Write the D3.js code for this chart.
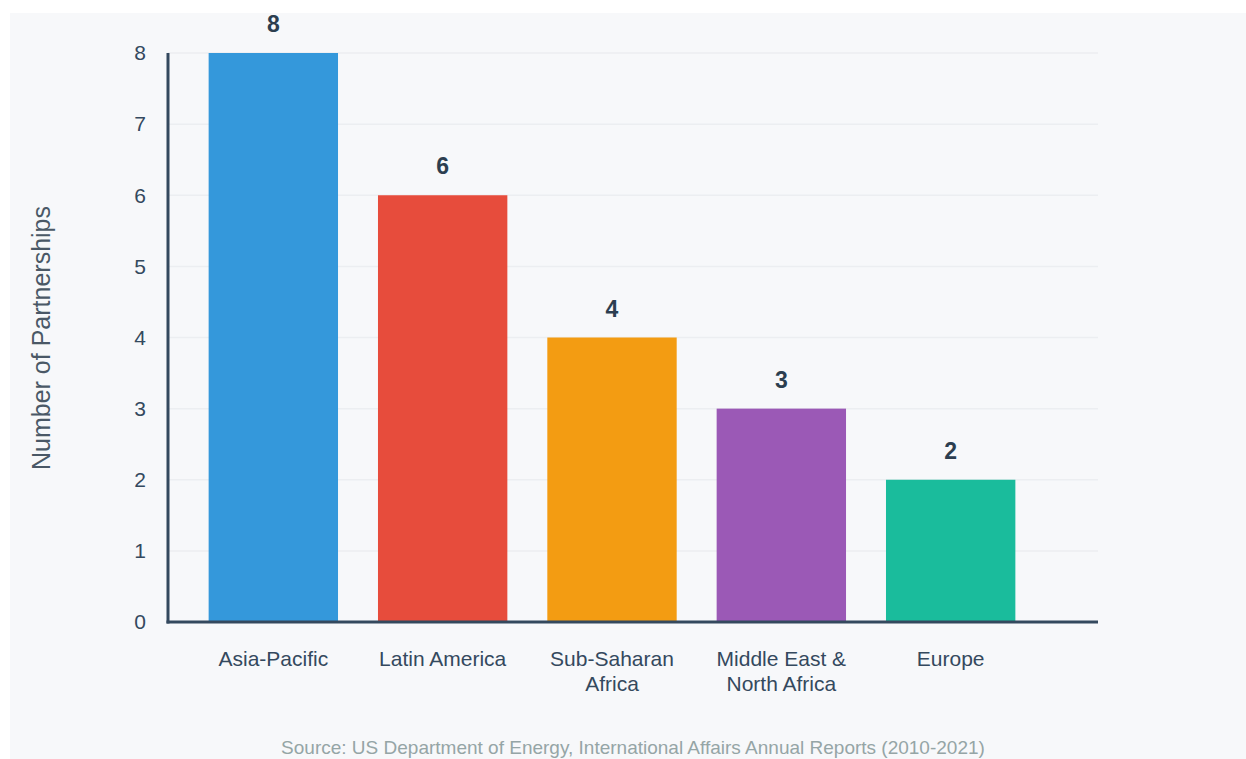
<!DOCTYPE html>
<html>
<head>
<meta charset="utf-8">
<script src="https://cdn.jsdelivr.net/npm/d3@7"></script>
<style>
  html, body { margin: 0; padding: 0; background: #ffffff; }
  svg { display: block; font-family: "Liberation Sans", Arial, sans-serif; }
</style>
</head>
<body>
<div id="chart"></div>
<script>
// ---- data ----
const regions = ["Asia-Pacific", "Latin America", "Sub-Saharan Africa", "Middle East & North Africa", "Europe"];
const regionLines = [["Asia-Pacific"], ["Latin America"], ["Sub-Saharan", "Africa"], ["Middle East &", "North Africa"], ["Europe"]];
const partnerships = [8, 6, 4, 3, 2];
const barColors = ["#3498db", "#e74c3c", "#f39c12", "#9b59b6", "#1abc9c"];
const yTicks = [0, 1, 2, 3, 4, 5, 6, 7, 8];
const yTitle = "Number of Partnerships";
const sourceNote = "Source: US Department of Energy, International Affairs Annual Reports (2010-2021)";

(() => {
  const width = 1246, height = 759;
  const axisLeft = 168, axisRight = 1098;
  const yTop = 53, yBottom = 622;

  const svg = d3.select("#chart").append("svg")
    .attr("width", width)
    .attr("height", height);

  // panel background
  svg.append("rect")
    .attr("x", 10).attr("y", 13)
    .attr("width", width - 10).attr("height", height - 13)
    .attr("fill", "#f7f8fa");

  // ------------------
  // Scales
  // ------------------
  const x = d3.scaleBand()
    .domain(regions)
    .range([axisLeft, 1056])
    .paddingInner(0.236)
    .paddingOuter(0.24);

  const y = d3.scaleLinear()
    .domain([0, 8])
    .range([yBottom, yTop]);

  // gridlines
  svg.append("g")
    .selectAll("line")
    .data(yTicks.filter(d => d > 0))
    .join("line")
    .attr("x1", axisLeft).attr("x2", axisRight)
    .attr("y1", d => y(d)).attr("y2", d => y(d))
    .attr("stroke", "#eceef1")
    .attr("stroke-width", 1.5);

  // bars
  svg.append("g")
    .selectAll("rect")
    .data(partnerships)
    .join("rect")
    .attr("x", (d, i) => x(regions[i]))
    .attr("y", d => y(d))
    .attr("width", x.bandwidth())
    .attr("height", d => y(0) - y(d))
    .attr("fill", (d, i) => barColors[i]);

  // value labels
  svg.append("g")
    .selectAll("text")
    .data(partnerships)
    .join("text")
    .attr("x", (d, i) => x(regions[i]) + x.bandwidth() / 2)
    .attr("y", d => y(d) - 21)
    .attr("text-anchor", "middle")
    .attr("font-size", 23)
    .attr("font-weight", "bold")
    .attr("fill", "#2c3e50")
    .text(d => d);

  // y tick labels
  svg.append("g")
    .selectAll("text")
    .data(yTicks)
    .join("text")
    .attr("x", 146)
    .attr("y", d => y(d))
    .attr("dy", "0.35em")
    .attr("text-anchor", "end")
    .attr("font-size", 21)
    .attr("fill", "#34495e")
    .text(d => d);

  // axis lines
  svg.append("line")
    .attr("x1", axisLeft).attr("x2", axisLeft)
    .attr("y1", yTop).attr("y2", yBottom + 1.5)
    .attr("stroke", "#34495e").attr("stroke-width", 3);
  svg.append("line")
    .attr("x1", axisLeft - 1.5).attr("x2", axisRight)
    .attr("y1", yBottom).attr("y2", yBottom)
    .attr("stroke", "#34495e").attr("stroke-width", 3);

  // category labels
  const cats = svg.append("g")
    .selectAll("text")
    .data(regions)
    .join("text")
    .attr("x", d => x(d) + x.bandwidth() / 2)
    .attr("y", 666)
    .attr("text-anchor", "middle")
    .attr("font-size", 21)
    .attr("fill", "#34495e");
  cats.selectAll("tspan")
    .data((d, i) => regionLines[i])
    .join("tspan")
    .attr("x", function () { return d3.select(this.parentNode).attr("x"); })
    .attr("dy", (d, i) => i === 0 ? 0 : 25)
    .text(d => d);

  // y title
  svg.append("text")
    .attr("transform", "translate(50,338) rotate(-90)")
    .attr("text-anchor", "middle")
    .attr("font-size", 25)
    .attr("fill", "#4a5866")
    .text(yTitle);

  // source
  svg.append("text")
    .attr("x", 633)
    .attr("y", 754)
    .attr("text-anchor", "middle")
    .attr("font-size", 19)
    .attr("fill", "#95a5a6")
    .text(sourceNote);
})();
</script>
</body>
</html>
